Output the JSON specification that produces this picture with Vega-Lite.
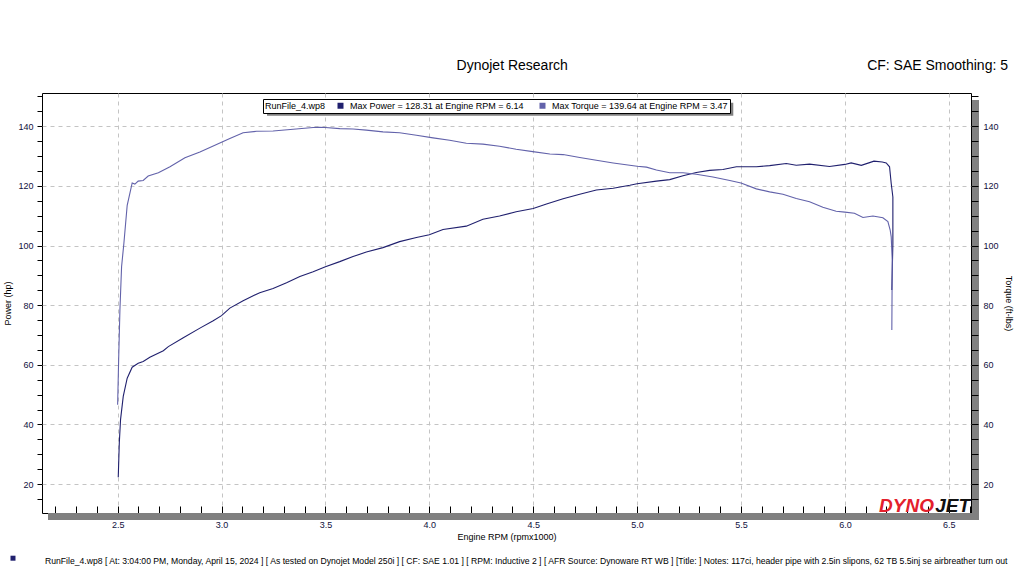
{
  "$schema": "https://vega.github.io/schema/vega-lite/v6.json",
  "width": 929,
  "height": 420,
  "autosize": "none",
  "padding": {"left": 42, "top": 93, "right": 53, "bottom": 63},
  "background": "white",
  "config": {
    "view": {"stroke": "black", "strokeWidth": 1},
    "font": "Liberation Sans",
    "axis": {"labelFont": "Liberation Sans", "titleFont": "Liberation Sans", "labelFontSize": 9, "titleFontSize": 9, "titleFontWeight": "normal", "labelColor": "#101040", "titleColor": "black", "domain": false, "tickColor": "black", "tickCount": 200, "labelOverlap": false, "labelFlush": false}
  },
  "datasets": {
    "runs": [
      {"series": "Power", "rpm": 2.503, "value": 22.3},
      {"series": "Power", "rpm": 2.508, "value": 33.8},
      {"series": "Power", "rpm": 2.514, "value": 41.6},
      {"series": "Power", "rpm": 2.527, "value": 49.4},
      {"series": "Power", "rpm": 2.546, "value": 55.5},
      {"series": "Power", "rpm": 2.570, "value": 59.2},
      {"series": "Power", "rpm": 2.599, "value": 60.5},
      {"series": "Power", "rpm": 2.623, "value": 61.1},
      {"series": "Power", "rpm": 2.655, "value": 62.5},
      {"series": "Power", "rpm": 2.720, "value": 64.7},
      {"series": "Power", "rpm": 2.744, "value": 66.1},
      {"series": "Power", "rpm": 2.816, "value": 69.1},
      {"series": "Power", "rpm": 2.896, "value": 72.3},
      {"series": "Power", "rpm": 2.960, "value": 74.8},
      {"series": "Power", "rpm": 3.000, "value": 76.5},
      {"series": "Power", "rpm": 3.040, "value": 79.0},
      {"series": "Power", "rpm": 3.104, "value": 81.5},
      {"series": "Power", "rpm": 3.184, "value": 84.2},
      {"series": "Power", "rpm": 3.248, "value": 85.6},
      {"series": "Power", "rpm": 3.313, "value": 87.5},
      {"series": "Power", "rpm": 3.377, "value": 89.6},
      {"series": "Power", "rpm": 3.441, "value": 91.2},
      {"series": "Power", "rpm": 3.500, "value": 92.9},
      {"series": "Power", "rpm": 3.569, "value": 94.6},
      {"series": "Power", "rpm": 3.633, "value": 96.3},
      {"series": "Power", "rpm": 3.697, "value": 97.8},
      {"series": "Power", "rpm": 3.777, "value": 99.3},
      {"series": "Power", "rpm": 3.857, "value": 101.3},
      {"series": "Power", "rpm": 3.938, "value": 102.7},
      {"series": "Power", "rpm": 4.000, "value": 103.6},
      {"series": "Power", "rpm": 4.066, "value": 105.4},
      {"series": "Power", "rpm": 4.178, "value": 106.5},
      {"series": "Power", "rpm": 4.258, "value": 108.8},
      {"series": "Power", "rpm": 4.338, "value": 109.9},
      {"series": "Power", "rpm": 4.418, "value": 111.3},
      {"series": "Power", "rpm": 4.500, "value": 112.4},
      {"series": "Power", "rpm": 4.564, "value": 113.9},
      {"series": "Power", "rpm": 4.644, "value": 115.7},
      {"series": "Power", "rpm": 4.724, "value": 117.2},
      {"series": "Power", "rpm": 4.804, "value": 118.6},
      {"series": "Power", "rpm": 4.885, "value": 119.2},
      {"series": "Power", "rpm": 4.965, "value": 120.2},
      {"series": "Power", "rpm": 5.000, "value": 120.7},
      {"series": "Power", "rpm": 5.093, "value": 121.6},
      {"series": "Power", "rpm": 5.157, "value": 122.1},
      {"series": "Power", "rpm": 5.221, "value": 123.4},
      {"series": "Power", "rpm": 5.285, "value": 124.5},
      {"series": "Power", "rpm": 5.349, "value": 125.2},
      {"series": "Power", "rpm": 5.413, "value": 125.5},
      {"series": "Power", "rpm": 5.478, "value": 126.4},
      {"series": "Power", "rpm": 5.574, "value": 126.4},
      {"series": "Power", "rpm": 5.638, "value": 126.8},
      {"series": "Power", "rpm": 5.718, "value": 127.5},
      {"series": "Power", "rpm": 5.766, "value": 126.9},
      {"series": "Power", "rpm": 5.830, "value": 127.3},
      {"series": "Power", "rpm": 5.926, "value": 126.5},
      {"series": "Power", "rpm": 6.000, "value": 127.2},
      {"series": "Power", "rpm": 6.030, "value": 127.7},
      {"series": "Power", "rpm": 6.079, "value": 126.9},
      {"series": "Power", "rpm": 6.119, "value": 127.8},
      {"series": "Power", "rpm": 6.140, "value": 128.3},
      {"series": "Power", "rpm": 6.180, "value": 128.0},
      {"series": "Power", "rpm": 6.199, "value": 127.7},
      {"series": "Power", "rpm": 6.215, "value": 126.4},
      {"series": "Power", "rpm": 6.223, "value": 120.8},
      {"series": "Power", "rpm": 6.231, "value": 116.3},
      {"series": "Power", "rpm": 6.231, "value": 100.7},
      {"series": "Power", "rpm": 6.226, "value": 85.1},
      {"series": "Torque", "rpm": 2.500, "value": 46.6},
      {"series": "Torque", "rpm": 2.505, "value": 62.0},
      {"series": "Torque", "rpm": 2.511, "value": 78.4},
      {"series": "Torque", "rpm": 2.519, "value": 92.9},
      {"series": "Torque", "rpm": 2.530, "value": 100.7},
      {"series": "Torque", "rpm": 2.546, "value": 113.5},
      {"series": "Torque", "rpm": 2.570, "value": 121.0},
      {"series": "Torque", "rpm": 2.583, "value": 120.6},
      {"series": "Torque", "rpm": 2.599, "value": 121.6},
      {"series": "Torque", "rpm": 2.623, "value": 121.8},
      {"series": "Torque", "rpm": 2.647, "value": 123.3},
      {"series": "Torque", "rpm": 2.696, "value": 124.4},
      {"series": "Torque", "rpm": 2.752, "value": 126.4},
      {"series": "Torque", "rpm": 2.824, "value": 129.4},
      {"series": "Torque", "rpm": 2.896, "value": 131.4},
      {"series": "Torque", "rpm": 2.976, "value": 133.9},
      {"series": "Torque", "rpm": 3.040, "value": 135.9},
      {"series": "Torque", "rpm": 3.104, "value": 137.8},
      {"series": "Torque", "rpm": 3.168, "value": 138.3},
      {"series": "Torque", "rpm": 3.248, "value": 138.4},
      {"series": "Torque", "rpm": 3.345, "value": 139.0},
      {"series": "Torque", "rpm": 3.441, "value": 139.6},
      {"series": "Torque", "rpm": 3.470, "value": 139.64},
      {"series": "Torque", "rpm": 3.500, "value": 139.6},
      {"series": "Torque", "rpm": 3.569, "value": 139.2},
      {"series": "Torque", "rpm": 3.633, "value": 139.1},
      {"series": "Torque", "rpm": 3.697, "value": 138.7},
      {"series": "Torque", "rpm": 3.777, "value": 138.1},
      {"series": "Torque", "rpm": 3.857, "value": 137.8},
      {"series": "Torque", "rpm": 3.938, "value": 137.0},
      {"series": "Torque", "rpm": 4.018, "value": 136.1},
      {"series": "Torque", "rpm": 4.098, "value": 135.3},
      {"series": "Torque", "rpm": 4.178, "value": 134.3},
      {"series": "Torque", "rpm": 4.258, "value": 134.0},
      {"series": "Torque", "rpm": 4.338, "value": 133.3},
      {"series": "Torque", "rpm": 4.418, "value": 132.3},
      {"series": "Torque", "rpm": 4.498, "value": 131.5},
      {"series": "Torque", "rpm": 4.580, "value": 130.7},
      {"series": "Torque", "rpm": 4.644, "value": 130.5},
      {"series": "Torque", "rpm": 4.724, "value": 129.5},
      {"series": "Torque", "rpm": 4.804, "value": 128.6},
      {"series": "Torque", "rpm": 4.885, "value": 127.7},
      {"series": "Torque", "rpm": 5.000, "value": 126.6},
      {"series": "Torque", "rpm": 5.045, "value": 126.3},
      {"series": "Torque", "rpm": 5.093, "value": 125.3},
      {"series": "Torque", "rpm": 5.157, "value": 124.4},
      {"series": "Torque", "rpm": 5.221, "value": 124.4},
      {"series": "Torque", "rpm": 5.285, "value": 123.9},
      {"series": "Torque", "rpm": 5.365, "value": 123.0},
      {"series": "Torque", "rpm": 5.446, "value": 121.8},
      {"series": "Torque", "rpm": 5.500, "value": 121.0},
      {"series": "Torque", "rpm": 5.574, "value": 119.0},
      {"series": "Torque", "rpm": 5.638, "value": 118.0},
      {"series": "Torque", "rpm": 5.702, "value": 117.2},
      {"series": "Torque", "rpm": 5.766, "value": 115.8},
      {"series": "Torque", "rpm": 5.830, "value": 114.7},
      {"series": "Torque", "rpm": 5.894, "value": 112.8},
      {"series": "Torque", "rpm": 5.958, "value": 111.5},
      {"series": "Torque", "rpm": 6.000, "value": 111.2},
      {"series": "Torque", "rpm": 6.046, "value": 110.8},
      {"series": "Torque", "rpm": 6.087, "value": 109.4},
      {"series": "Torque", "rpm": 6.135, "value": 109.9},
      {"series": "Torque", "rpm": 6.183, "value": 109.3},
      {"series": "Torque", "rpm": 6.207, "value": 108.0},
      {"series": "Torque", "rpm": 6.218, "value": 105.2},
      {"series": "Torque", "rpm": 6.223, "value": 102.9},
      {"series": "Torque", "rpm": 6.228, "value": 95.1},
      {"series": "Torque", "rpm": 6.226, "value": 71.7}
    ]
  },
  "layer": [
    {
      "layer": [
        {
          "data": {"name": "runs"},
          "transform": [{"filter": "datum.series == 'Power'"}],
          "mark": {"type": "line", "strokeWidth": 1.1},
          "encoding": {
            "x": {"field": "rpm", "type": "quantitative", "scale": {"domain": [2.136, 6.607], "nice": false, "zero": false},
              "axis": {"title": "Engine RPM (rpmx1000)", "values": [2.2,2.3,2.4,2.5,2.6,2.7,2.8,2.9,3.0,3.1,3.2,3.3,3.4,3.5,3.6,3.7,3.8,3.9,4.0,4.1,4.2,4.3,4.4,4.5,4.6,4.7,4.8,4.9,5.0,5.1,5.2,5.3,5.4,5.5,5.6,5.7,5.8,5.9,6.0,6.1,6.2,6.3,6.4,6.5,6.6],
                "format": ".1f", "labelExpr": "abs(datum.value*2 - round(datum.value*2)) < 0.01 ? datum.label : ''",
                "tickSize": -7, "labelPadding": 14, "titlePadding": 3,
                "grid": true, "gridDash": [4, 4], "gridColor": {"condition": {"test": "abs(datum.value*2 - round(datum.value*2)) < 0.01", "value": "#c4c4c4"}, "value": "transparent"}}},
            "y": {"field": "value", "type": "quantitative", "scale": {"domain": [10.3, 151.15], "nice": false, "zero": false},
              "axis": {"orient": "left", "title": "Power (hp)", "format": "d", "values": [15,20,25,30,35,40,45,50,55,60,65,70,75,80,85,90,95,100,105,110,115,120,125,130,135,140,145,150],
                "labelExpr": "datum.value % 20 == 0 ? datum.label : ''", "tickSize": 5, "labelPadding": 4, "titlePadding": 5,
                "grid": true, "gridDash": [4, 4], "gridColor": {"condition": {"test": "datum.value % 20 == 0", "value": "#c4c4c4"}, "value": "transparent"}}},
            "color": {"field": "series", "type": "nominal", "scale": {"domain": ["Power", "Torque"], "range": ["#20206e", "#6262aa"]},
              "legend": {"orient": "none", "legendX": 221, "legendY": 6, "direction": "horizontal", "title": "\u00a0RunFile_4.wp8", "titleOrient": "left", "titleFontWeight": "normal", "titleFontSize": 9, "titleFont": "Liberation Sans", "titleColor": "black", "titlePadding": 10,
                "labelFont": "Liberation Sans", "labelFontSize": 9, "labelColor": "black", "labelLimit": 400, "labelOffset": 5, "columnPadding": 14,
                "symbolType": "square", "symbolSize": 36, "symbolStrokeWidth": 0, "padding": 2, "strokeColor": "black", "fillColor": "white",
                "labelExpr": "datum.label == 'Power' ? 'Max Power = 128.31 at Engine RPM = 6.14' : 'Max Torque = 139.64 at Engine RPM = 3.47'",
                "encode": {"symbols": {"update": {"fill": {"scale": "color", "field": "value"}, "stroke": {"value": "transparent"}}}}}},
            "order": {"value": null}
          }
        },
        {
          "data": {"values": [{}]},
          "mark": {"type": "rect", "color": "#808080", "xOffset": 6, "x2Offset": 8, "yOffset": 0, "y2Offset": 7},
          "encoding": {"x": {"datum": 2.136}, "x2": {"datum": 6.607}, "y": {"datum": 10.3}, "y2": {"datum": 10.3}}
        },
        {
          "data": {"values": [{}]},
          "mark": {"type": "rect", "color": "#808080", "xOffset": 1, "x2Offset": 8, "yOffset": 7, "y2Offset": 7},
          "encoding": {"x": {"datum": 6.607}, "x2": {"datum": 6.607}, "y": {"datum": 151.15}, "y2": {"datum": 10.3}}
        },
        {
          "data": {"values": [{}]},
          "mark": {"type": "rect", "color": "#808080"},
          "encoding": {"x": {"datum": 3.219}, "x2": {"datum": 5.463}, "y": {"datum": 147.85}, "y2": {"datum": 143.5}}
        },
        {
          "data": {"values": [{}]},
          "mark": {"type": "text", "text": "DYNO", "font": "Liberation Sans", "fontSize": 19, "fontWeight": "bold", "fontStyle": "italic", "color": "#e4202c", "align": "right", "baseline": "alphabetic", "dx": -37, "dy": -1},
          "encoding": {"x": {"datum": 6.607}, "y": {"datum": 10.3}}
        },
        {
          "data": {"values": [{}]},
          "mark": {"type": "text", "text": "JET", "font": "Liberation Sans", "fontSize": 19, "fontWeight": "bold", "fontStyle": "italic", "color": "#111111", "align": "right", "baseline": "alphabetic", "dx": -1, "dy": -1},
          "encoding": {"x": {"datum": 6.607}, "y": {"datum": 10.3}}
        },
        {
          "data": {"values": [{}]},
          "mark": {"type": "text", "text": "Dynojet Research", "font": "Liberation Sans", "fontSize": 14, "color": "black", "align": "center", "baseline": "middle"},
          "encoding": {"x": {"datum": 4.399}, "y": {"datum": 160.1}}
        },
        {
          "data": {"values": [{}]},
          "mark": {"type": "text", "text": "CF: SAE Smoothing: 5", "font": "Liberation Sans", "fontSize": 14, "color": "black", "align": "right", "baseline": "middle"},
          "encoding": {"x": {"datum": 6.785}, "y": {"datum": 160.1}}
        },
        {
          "data": {"values": [{}]},
          "mark": {"type": "text", "text": "RunFile_4.wp8 [ At: 3:04:00 PM, Monday, April 15, 2024 ] [ As tested on Dynojet Model 250i ] [ CF: SAE 1.01 ] [ RPM: Inductive 2 ] [ AFR Source: Dynoware RT WB ] [Title: ]  Notes: 117ci, header pipe with 2.5in slipons, 62 TB 5.5inj se airbreather turn out", "font": "Liberation Sans", "fontSize": 8.65, "color": "black", "align": "left", "baseline": "middle"},
          "encoding": {"x": {"datum": 2.1504}, "y": {"datum": -5.86}}
        },
        {
          "data": {"values": [{}]},
          "mark": {"type": "point", "shape": "square", "filled": true, "size": 25, "color": "#20206e", "opacity": 1},
          "encoding": {"x": {"datum": 1.9964}, "y": {"datum": -4.86}}
        }
      ]
    },
    {
      "data": {"name": "runs"},
      "transform": [{"filter": "datum.series == 'Torque'"}],
      "mark": {"type": "line", "strokeWidth": 1.1},
      "encoding": {
        "x": {"field": "rpm", "type": "quantitative", "scale": {"domain": [2.136, 6.607], "nice": false, "zero": false}},
        "y": {"field": "value", "type": "quantitative", "scale": {"domain": [10.3, 151.15], "nice": false, "zero": false},
          "axis": {"orient": "right", "title": "Torque (ft-lbs)", "format": "d", "values": [15,20,25,30,35,40,45,50,55,60,65,70,75,80,85,90,95,100,105,110,115,120,125,130,135,140,145,150],
            "labelExpr": "datum.value % 20 == 0 ? datum.label : ''", "tickSize": 7, "labelPadding": 5, "titlePadding": 5, "grid": false, "zindex": 1}},
        "color": {"field": "series", "type": "nominal"},
        "order": {"value": null}
      }
    }
  ],
  "resolve": {"scale": {"y": "independent"}}
}
